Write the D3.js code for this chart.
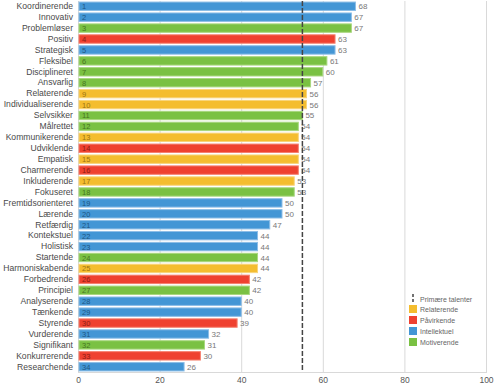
<!DOCTYPE html>
<html><head><meta charset="utf-8">
<script src="https://cdn.jsdelivr.net/npm/d3@7"></script>
<style>body{margin:0;background:#fff}svg{display:block}</style>
</head><body>
<script>
const categories = ["Koordinerende","Innovativ","Problemløser","Positiv","Strategisk","Fleksibel","Disciplineret","Ansvarlig","Relaterende","Individualiserende","Selvsikker","Målrettet","Kommunikerende","Udviklende","Empatisk","Charmerende","Inkluderende","Fokuseret","Fremtidsorienteret","Lærende","Retfærdig","Kontekstuel","Holistisk","Startende","Harmoniskabende","Forbedrende","Principiel","Analyserende","Tænkende","Styrende","Vurderende","Signifikant","Konkurrerende","Researchende"];
const values = [68,67,67,63,63,61,60,57,56,56,55,54,54,54,54,54,53,53,50,50,47,44,44,44,44,42,42,40,40,39,32,31,30,26];
const groups = ["I","I","M","P","I","M","M","M","R","R","M","M","R","P","R","P","R","M","I","I","I","I","I","M","R","P","M","I","I","P","I","M","P","I"];
const groupNames = {R:"Relaterende",P:"Påvirkende",I:"Intellektuel",M:"Motiverende"};
const legendOrder = ["R","P","I","M"];
const fill = {R:"#f4bd2f",P:"#ef4130",I:"#4396d5",M:"#7ac143"};
const stroke = {R:"#f8d47a",P:"#f5806f",I:"#8cbde6",M:"#a9d77f"};
const rankColor = {R:"#9c7414",P:"#8e1d14",I:"#1f5683",M:"#477522"};
const threshold = 55;
const xTicks = [0,20,40,60,80,100];

const W=501,H=388;
const m={l:78,r:15,t:1,b:16};
const svg=d3.select("body").append("svg").attr("width",W).attr("height",H);
const x=d3.scaleLinear().domain([0,100]).range([m.l,486]);
const y=d3.scaleBand().domain(categories).range([m.t,H-m.b]).paddingInner(0.14).paddingOuter(0.05);
const font="Liberation Sans, Arial, sans-serif";

// grid
svg.append("g").selectAll("line").data(xTicks).join("line")
  .attr("x1",d=>x(d)+0.5).attr("x2",d=>x(d)+0.5).attr("y1",m.t).attr("y2",H-m.b)
  .attr("stroke","#d9d9d9").attr("stroke-width",1);
svg.append("line").attr("x1",x(0)).attr("x2",x(100)+1).attr("y1",H-m.b+0.5).attr("y2",H-m.b+0.5).attr("stroke","#d9d9d9");

// x axis labels
const xa=svg.append("g").attr("transform",`translate(0,${H-m.b})`)
  .call(d3.axisBottom(x).tickValues(xTicks).tickSize(0).tickPadding(5));
xa.select(".domain").remove();
xa.selectAll("text").attr("font-family",font).attr("font-size",8.5).attr("fill","#555");

// y axis labels
const ya=svg.append("g").attr("transform",`translate(${m.l},0)`)
  .call(d3.axisLeft(y).tickSize(0).tickPadding(5));
ya.select(".domain").remove();
ya.selectAll("text").attr("font-family",font).attr("font-size",8.6).attr("fill","#4a4a4a");

// bars
const rows=categories.map((c,i)=>({c,v:values[i],g:groups[i],r:i+1}));
svg.append("g").selectAll("rect").data(rows).join("rect")
  .attr("x",x(0)+1).attr("y",d=>y(d.c)+0.5)
  .attr("width",d=>x(d.v)-x(0)-1).attr("height",y.bandwidth()-1)
  .attr("fill",d=>fill[d.g]).attr("stroke",d=>stroke[d.g]).attr("stroke-width",1);
svg.append("g").selectAll("text").data(rows).join("text")
  .attr("x",x(0)+4).attr("y",d=>y(d.c)+y.bandwidth()/2+3)
  .attr("font-family",font).attr("font-size",7.5).attr("fill",d=>rankColor[d.g]).text(d=>d.r);
svg.append("g").selectAll("text").data(rows).join("text")
  .attr("x",d=>x(d.v)+3).attr("y",d=>y(d.c)+y.bandwidth()/2+3)
  .attr("font-family",font).attr("font-size",8).attr("fill","#777").text(d=>d.v);

// threshold line
svg.append("line").attr("x1",x(threshold)).attr("x2",x(threshold)).attr("y1",m.t).attr("y2",H-m.b)
  .attr("stroke","#444").attr("stroke-width",1.5).attr("stroke-dasharray","5,2");

// legend
const lg=svg.append("g").attr("transform","translate(409,294)");
lg.append("line").attr("x1",4).attr("x2",4).attr("y1",0).attr("y2",9).attr("stroke","#444").attr("stroke-width",1.5).attr("stroke-dasharray","3,2");
lg.append("text").attr("x",11).attr("y",8).attr("font-family",font).attr("font-size",7).attr("fill","#666").text("Primære talenter");
legendOrder.forEach((g,i)=>{
  const yy=11*(i+1);
  lg.append("rect").attr("x",0).attr("y",yy).attr("width",8).attr("height",8).attr("fill",fill[g]);
  lg.append("text").attr("x",11).attr("y",yy+7).attr("font-family",font).attr("font-size",7).attr("fill","#666").text(groupNames[g]);
});
</script>
</body></html>
